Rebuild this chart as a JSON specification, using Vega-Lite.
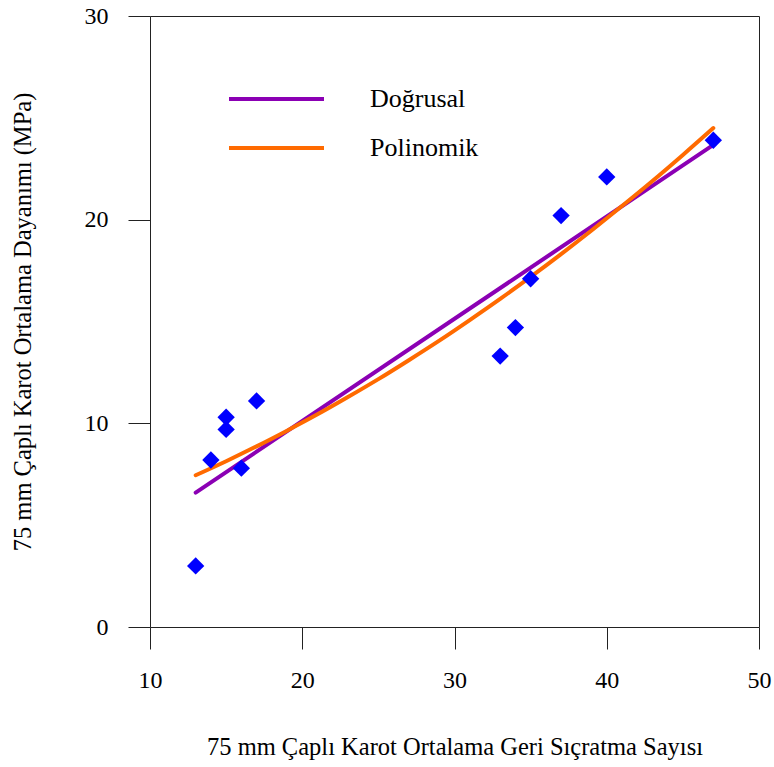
{
  "$schema": "https://vega.github.io/schema/vega-lite/v6.json",
  "autosize": {"type": "none"},
  "width": 609,
  "height": 611,
  "padding": {"left": 150, "top": 16, "right": 15, "bottom": 140},
  "background": "white",
  "config": {
    "font": "Liberation Serif",
    "view": {"stroke": "#222", "strokeWidth": 1},
    "axis": {
      "grid": false,
      "domain": false,
      "tickColor": "#222",
      "tickSize": 22,
      "tickWidth": 1,
      "labelFont": "Liberation Serif",
      "labelFontSize": 24,
      "labelColor": "#000",
      "labelFlush": false,
      "titleFont": "Liberation Serif",
      "titleFontSize": 24.5,
      "titleFontWeight": "normal",
      "titleColor": "#000"
    }
  },
  "datasets": {
    "points": [
      {"x": 13, "y": 3.0},
      {"x": 14, "y": 8.2},
      {"x": 15, "y": 10.3},
      {"x": 15, "y": 9.7},
      {"x": 16, "y": 7.8},
      {"x": 17, "y": 11.1},
      {"x": 33, "y": 13.3},
      {"x": 34, "y": 14.7},
      {"x": 35, "y": 17.1},
      {"x": 37, "y": 20.2},
      {"x": 40, "y": 22.1},
      {"x": 47, "y": 23.9}
    ],
    "fits": [
      {"model": "Doğrusal", "x": 13, "y": 6.6},
      {"model": "Doğrusal", "x": 47, "y": 23.67},
      {"model": "Polinomik", "x": 13, "y": 7.45},
      {"model": "Polinomik", "x": 15, "y": 8.14},
      {"model": "Polinomik", "x": 17, "y": 8.87},
      {"model": "Polinomik", "x": 19, "y": 9.64},
      {"model": "Polinomik", "x": 21, "y": 10.44},
      {"model": "Polinomik", "x": 23, "y": 11.29},
      {"model": "Polinomik", "x": 25, "y": 12.17},
      {"model": "Polinomik", "x": 27, "y": 13.1},
      {"model": "Polinomik", "x": 29, "y": 14.06},
      {"model": "Polinomik", "x": 31, "y": 15.07},
      {"model": "Polinomik", "x": 33, "y": 16.11},
      {"model": "Polinomik", "x": 35, "y": 17.19},
      {"model": "Polinomik", "x": 37, "y": 18.31},
      {"model": "Polinomik", "x": 39, "y": 19.47},
      {"model": "Polinomik", "x": 41, "y": 20.67},
      {"model": "Polinomik", "x": 43, "y": 21.9},
      {"model": "Polinomik", "x": 45, "y": 23.18},
      {"model": "Polinomik", "x": 47, "y": 24.5}
    ]
  },
  "layer": [
    {
      "data": {"name": "fits"},
      "mark": {"type": "line", "strokeWidth": 4, "strokeCap": "round", "interpolate": "monotone"},
      "encoding": {
        "x": {
          "field": "x", "type": "quantitative",
          "scale": {"domain": [10, 50], "nice": false, "zero": false},
          "axis": {"values": [10, 20, 30, 40, 50], "title": "75 mm Çaplı Karot Ortalama Geri Sıçratma Sayısı", "labelPadding": 19, "titlePadding": 43}
        },
        "y": {
          "field": "y", "type": "quantitative",
          "scale": {"domain": [0, 30], "nice": false},
          "axis": {"values": [0, 10, 20, 30], "title": "75 mm Çaplı Karot Ortalama Dayanımı (MPa)", "labelPadding": 20, "titlePadding": 49}
        },
        "color": {
          "field": "model", "type": "nominal",
          "scale": {"domain": ["Doğrusal", "Polinomik"], "range": ["#8B00B4", "#FF6A00"]},
          "legend": {
            "title": null,
            "orient": "none",
            "legendX": 77,
            "legendY": 63,
            "symbolType": "stroke",
            "symbolSize": 9025,
            "symbolStrokeWidth": 4,
            "clipHeight": 40,
            "labelFont": "Liberation Serif",
            "labelFontSize": 26,
            "labelColor": "#000",
            "labelOffset": 44,
            "rowPadding": 9,
            "labelLimit": 300
          }
        }
      }
    },
    {
      "data": {"name": "points"},
      "mark": {"type": "point", "shape": "diamond", "filled": true, "size": 300, "color": "#0000FF", "opacity": 1},
      "encoding": {
        "x": {"field": "x", "type": "quantitative"},
        "y": {"field": "y", "type": "quantitative"}
      }
    }
  ]
}
